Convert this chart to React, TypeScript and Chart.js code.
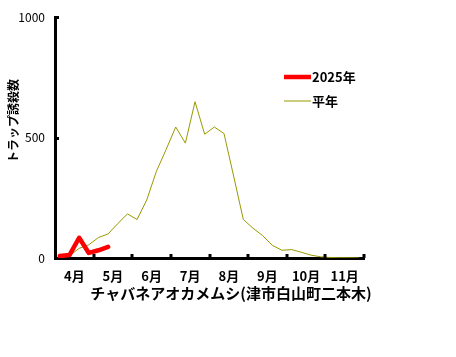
import React, { useEffect, useRef } from 'react';
import { Chart, registerables } from 'chart.js';

Chart.register(...registerables);

const monthLabels = ['4月', '5月', '6月', '7月', '8月', '9月', '10月', '11月'];
const weeksPerMonth = 4;
// 平年 (normal year), weekly trap counts
const heinen = [2, 10, 40, 55, 85, 100, 143, 183, 160, 241, 360, 450, 544, 477, 649, 514, 544, 517, 340, 160, 124, 93, 53, 32, 35, 24, 12, 5, 2, 1, 1, 0];
// 2025年
const year2025 = [8, 12, 84, 21, 32, 46];
const yTicks = [0, 500, 1000];
const seriesNames = ['2025年', '平年'];
const yTitle = 'トラップ誘殺数';
const xTitle = 'チャバネアオカメムシ(津市白山町二本木)';

const FONT = "'Noto Sans CJK JP', 'Noto Sans', sans-serif";

const toPoints = (arr: number[]) => arr.map((v, i) => ({ x: (i + 0.5) / weeksPerMonth, y: v }));

const customPlugin = {
  id: 'customDecor',
  afterDraw(chart: any) {
    const { ctx } = chart;
    const x = chart.scales.x;
    const y = chart.scales.y;
    ctx.save();
    ctx.fillStyle = '#000';
    const y0 = y.getPixelForValue(0);
    // x tick marks (month boundaries), pointing inward
    for (let k = 1; k <= monthLabels.length; k++) {
      const px = x.getPixelForValue(k);
      ctx.fillRect(Math.round(px) - 1.5, y0 - 4, 3, 4);
    }
    // x month labels centred in each month
    ctx.font = `bold 13px ${FONT}`;
    ctx.textAlign = 'center';
    ctx.textBaseline = 'middle';
    monthLabels.forEach((lab, i) => {
      ctx.fillText(lab, x.getPixelForValue(i + 0.5), y0 + 18);
    });
    // y tick marks pointing inward
    for (const v of yTicks) {
      if (v === 0) continue;
      const py = y.getPixelForValue(v);
      ctx.fillRect(x.left, Math.round(py) - 1, 4, 3);
    }
    // legend
    const ds = chart.data.datasets;
    const legendX = 284;
    const legendY = [77, 101];
    ds.forEach((d: any, i: number) => {
      ctx.strokeStyle = d.borderColor;
      ctx.lineWidth = d.borderWidth;
      ctx.lineCap = 'butt';
      ctx.beginPath();
      ctx.moveTo(legendX, legendY[i]);
      ctx.lineTo(legendX + 27, legendY[i]);
      ctx.stroke();
      ctx.fillStyle = '#000';
      ctx.font = `bold 13px ${FONT}`;
      ctx.textAlign = 'left';
      ctx.textBaseline = 'middle';
      ctx.fillText(d.label, legendX + 28, legendY[i]);
    });
    // x title
    ctx.font = `bold 15px ${FONT}`;
    ctx.textAlign = 'center';
    ctx.textBaseline = 'middle';
    ctx.fillText(xTitle, 231, 293);
    // y title
    ctx.save();
    ctx.translate(13, 121);
    ctx.rotate(-Math.PI / 2);
    ctx.font = `bold 12px ${FONT}`;
    ctx.fillText(yTitle, 0, 0);
    ctx.restore();
    ctx.restore();
  },
};

export default function App() {
  const ref = useRef<HTMLCanvasElement>(null);
  useEffect(() => {
    document.body.style.margin = '0';
    const canvas = ref.current;
    if (!canvas) return;
    const chart = new Chart(canvas, {
      type: 'line',
      data: {
        datasets: [
          {
            label: seriesNames[0],
            data: toPoints(year2025),
            borderColor: '#ff0000',
            borderWidth: 4.5,
            pointRadius: 0,
            tension: 0,
            borderJoinStyle: 'round',
            borderCapStyle: 'round',
          },
          {
            label: seriesNames[1],
            data: toPoints(heinen),
            borderColor: '#999900',
            borderWidth: 1,
            pointRadius: 0,
            tension: 0,
          },
        ],
      },
      options: {
        animation: false,
        responsive: false,
        events: [],
        layout: { padding: { top: 11, right: 92, left: 0, bottom: 0 } },
        plugins: { legend: { display: false }, tooltip: { enabled: false } },
        scales: {
          x: {
            type: 'linear',
            min: 0,
            max: monthLabels.length,
            grid: { display: false },
            border: { display: true, color: '#000', width: 3 },
            afterFit: (s: any) => {
              s.height = 99;
            },
            ticks: { display: false },
          },
          y: {
            min: yTicks[0],
            max: yTicks[yTicks.length - 1],
            grid: { display: false, drawTicks: false },
            border: { display: true, color: '#000', width: 3 },
            afterBuildTicks: (s: any) => {
              s.ticks = yTicks.map((v) => ({ value: v }));
            },
            afterFit: (s: any) => {
              s.width = 55;
            },
            ticks: {
              padding: 10,
              color: '#000',
              font: { family: FONT, size: 12 },
              callback: (v: any) => String(v),
            },
          },
        },
      },
      plugins: [customPlugin],
    });
    return () => chart.destroy();
  }, []);
  return <canvas ref={ref} width={456} height={357} style={{ display: 'block' }} />;
}
